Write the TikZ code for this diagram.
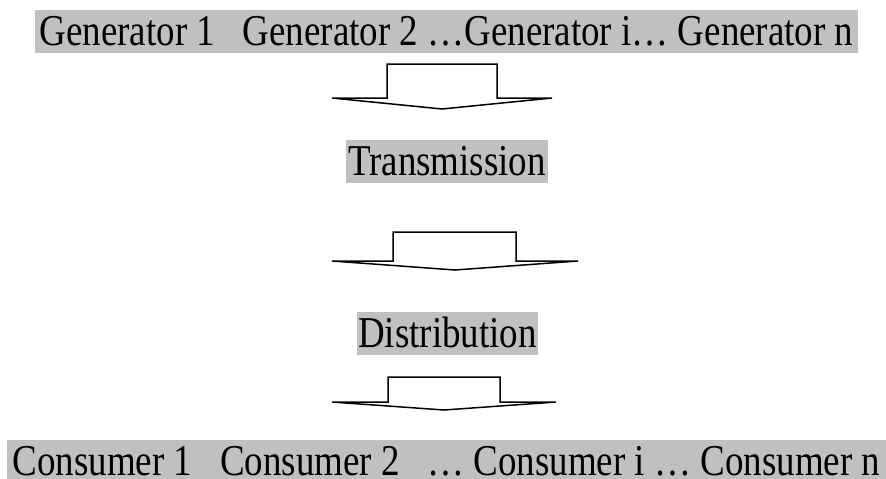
\documentclass[tikz,border=0pt]{standalone}
\usepackage{fontspec}
\setmainfont{Liberation Serif}[FakeStretch=0.84]
\definecolor{bandgray}{RGB}{192,192,192}

\begin{document}
\begin{tikzpicture}[x=1pt, y=-1pt,
    band/.style = {fill=bandgray, anchor=base, inner xsep=0pt, inner ysep=0pt,
                   text height=35pt, text depth=8pt, font=\fontsize{44}{48}\selectfont},
    blockarrow/.style = {draw, line width=1.5pt, line join=miter, fill=white}]
        \useasboundingbox (0,0) rectangle (886,479);

        \node[band, minimum width=823pt] (gens) at (446.5,45) {Generator 1\ \ \ Generator 2 …Generator i… Generator n};
        \node[band, minimum width=202pt] (trans) at (447,175) {Transmission};
        \node[band, minimum width=181pt] (dist) at (447.5,347) {Distribution};
        \node[band, minimum width=879pt, text depth=3.5pt] (cons) at (446.5,475) {Consumer 1\ \ \ Consumer 2\ \ \ … Consumer i … Consumer n};

        % gens -> trans
        \draw[blockarrow] (387,98) -- (387,64) -- (497,64) -- (497,98) -- (552,98) -- (442,109) -- (332,98) -- cycle;
        % trans -> dist
        \draw[blockarrow] (393,261) -- (393,232) -- (516,232) -- (516,261) -- (578,261) -- (455,270) -- (332,261) -- cycle;
        % dist -> cons
        \draw[blockarrow] (388,402) -- (388,377) -- (500,377) -- (500,402) -- (556,402) -- (444,410) -- (332,402) -- cycle;
\end{tikzpicture}
\end{document}
